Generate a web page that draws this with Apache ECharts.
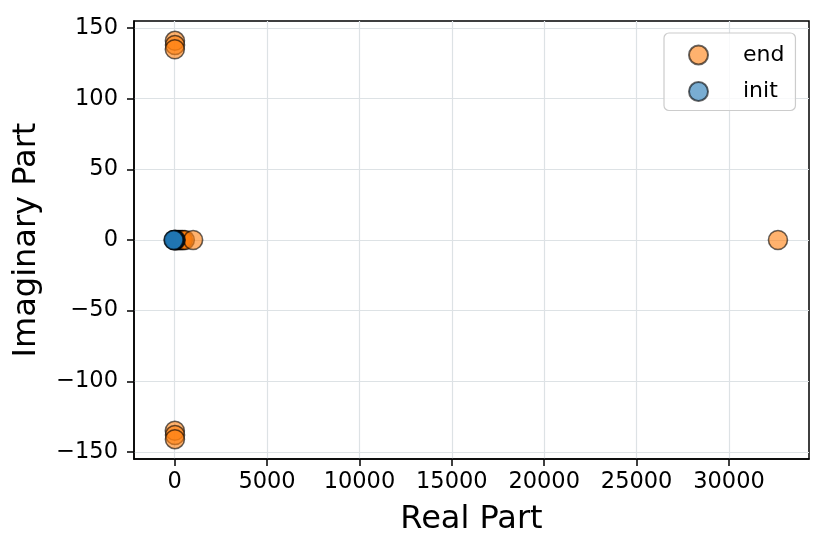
<!DOCTYPE html>
<html>
<head>
<meta charset="utf-8">
<script src="https://cdn.jsdelivr.net/npm/echarts@6/dist/echarts.min.js"></script>
<style>html,body{margin:0;padding:0;background:#fff}#c{width:831px;height:551px}</style>
</head>
<body>
<div id="c"></div>
<script>
// Data
const endRe = [15, 20, 10, 10, 20, 15, 30, 80, 150, 220, 300, 380, 450, 550, 1000, 32650];
const endIm = [141, 138, 135, -135, -138, -141, 0, 0, 0, 0, 0, 0, 0, 0, 0, 0];
const initRe = [60, 20, -10, -40, -60];
const initIm = [0, 0, 0, 0, 0];
const xTicks = [0, 5000, 10000, 15000, 20000, 25000, 30000];
const yTicks = [-150, -100, -50, 0, 50, 100, 150];
const seriesNames = ['end', 'init'];

const pairs = (xs, ys) => xs.map((x, i) => [x, ys[i]]);
const fmt = v => String(v).replace('-', '\u2212');
const FONT = 'DejaVu Sans';

const chart = echarts.init(document.getElementById('c'), null, {renderer: 'canvas'});
chart.setOption({
  animation: false,
  backgroundColor: '#ffffff',
  grid: {left: 134, right: 22, top: 21, bottom: 92, show: true, borderColor: '#000', borderWidth: 1.5, backgroundColor: 'transparent'},
  legend: {
    orient: 'vertical', left: 664, top: 33,
    padding: [11, 11, 8, 24],
    itemWidth: 19, itemHeight: 19, itemGap: 14.5,
    icon: 'circle',
    borderColor: '#cccccc', borderWidth: 1.2, borderRadius: 5,
    backgroundColor: 'rgba(255,255,255,0.8)',
    textStyle: {fontFamily: FONT, fontSize: 22, color: '#000', padding: [0, 0, 0, 30]},
    data: seriesNames
  },
  xAxis: {
    type: 'value', min: -2200, max: 34330,
    name: 'Real Part', nameLocation: 'middle', nameGap: 45,
    nameTextStyle: {fontFamily: FONT, fontSize: 32, color: '#000'},
    axisLine: {show: true, onZero: false, lineStyle: {color: '#000', width: 1.5}},
    axisTick: {show: true, inside: false, length: 7, lineStyle: {color: '#000', width: 1.5}, customValues: xTicks},
    axisLabel: {fontFamily: FONT, fontSize: 22.5, color: '#000', margin: 12, customValues: xTicks, formatter: v => fmt(v)},
    splitLine: {show: true, lineStyle: {color: '#dde2e5', width: 1.2}}
  },
  yAxis: {
    type: 'value', min: -155, max: 155,
    name: 'Imaginary Part', nameLocation: 'middle', nameGap: 91, nameRotate: 90,
    nameTextStyle: {fontFamily: FONT, fontSize: 32, color: '#000'},
    axisLine: {show: true, onZero: false, lineStyle: {color: '#000', width: 1.5}},
    axisTick: {show: true, inside: false, length: 7, lineStyle: {color: '#000', width: 1.5}, customValues: yTicks},
    axisLabel: {fontFamily: FONT, fontSize: 22.5, color: '#000', margin: 16, customValues: yTicks, formatter: v => fmt(v)},
    splitLine: {show: true, lineStyle: {color: '#dde2e5', width: 1.2}}
  },
  series: [
    {
      name: seriesNames[0], type: 'scatter', symbol: 'circle', symbolSize: 19,
      itemStyle: {color: 'rgba(255,127,14,0.6)', borderColor: 'rgba(0,0,0,0.6)', borderWidth: 1.6, opacity: 1},
      data: pairs(endRe, endIm)
    },
    {
      name: seriesNames[1], type: 'scatter', symbol: 'circle', symbolSize: 19,
      itemStyle: {color: 'rgba(31,119,180,0.6)', borderColor: 'rgba(0,0,0,0.6)', borderWidth: 1.6, opacity: 1},
      data: pairs(initRe, initIm)
    }
  ]
});
</script>
</body>
</html>
